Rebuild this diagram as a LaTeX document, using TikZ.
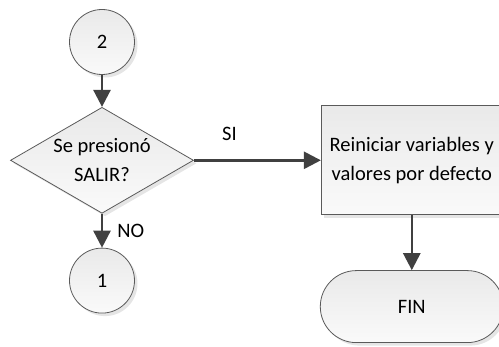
\documentclass[tikz,border=0pt]{standalone}
\usepackage{fontspec}
\setmainfont{Carlito}
\usetikzlibrary{positioning, shapes.geometric, arrows.meta, shadows}

\definecolor{linegray}{HTML}{404040}
\definecolor{edgegray}{HTML}{5A5A5A}

\tikzset{
	base/.style={draw=edgegray, line width=.8pt, top color=gray!17, bottom color=gray!4,
		font=\fontsize{20.5}{29}\selectfont, align=center,
		drop shadow={shadow xshift=3pt, shadow yshift=-3pt, fill=gray!45, opacity=.45}},
	conn/.style={base, circle, minimum size=65pt, inner sep=0pt},
	decision/.style={base, diamond, aspect=1.7, minimum width=183pt, minimum height=106pt, inner sep=0pt},
	process/.style={base, rectangle, minimum width=181pt, minimum height=109pt},
	terminal/.style={base, rectangle, rounded corners=36pt, minimum width=183pt, minimum height=72pt},
	flow/.style={draw=linegray, line width=2.6pt, -{Triangle[width=17pt,length=17pt]}},
	lbl/.style={font=\fontsize{20.5}{24}\selectfont, inner sep=2pt}
}

\begin{document}
\begin{tikzpicture}[x=1pt, y=-1pt]
	\useasboundingbox (0,0) rectangle (499,347);
	
	\node[conn] (c2) at (102,42) {2};
	\node[decision, below=32pt of c2] (q) {Se presionó\\SALIR?};
	\node[conn, below=34pt of q] (c1) {1};
	\node[process, right=127pt of q] (reset) {Reiniciar variables y\\valores por defecto};
	\node[terminal, below=55pt of reset] (fin) {FIN};
	
	\draw[flow] (c2) -- (q);
	\draw[flow] (q) -- node[lbl, pos=.28, above=16pt] {SI} (reset);
	\draw[flow] (q) -- node[lbl, right=12pt] {NO} (c1);
	\draw[flow] (reset) -- (fin);
\end{tikzpicture}
\end{document}
